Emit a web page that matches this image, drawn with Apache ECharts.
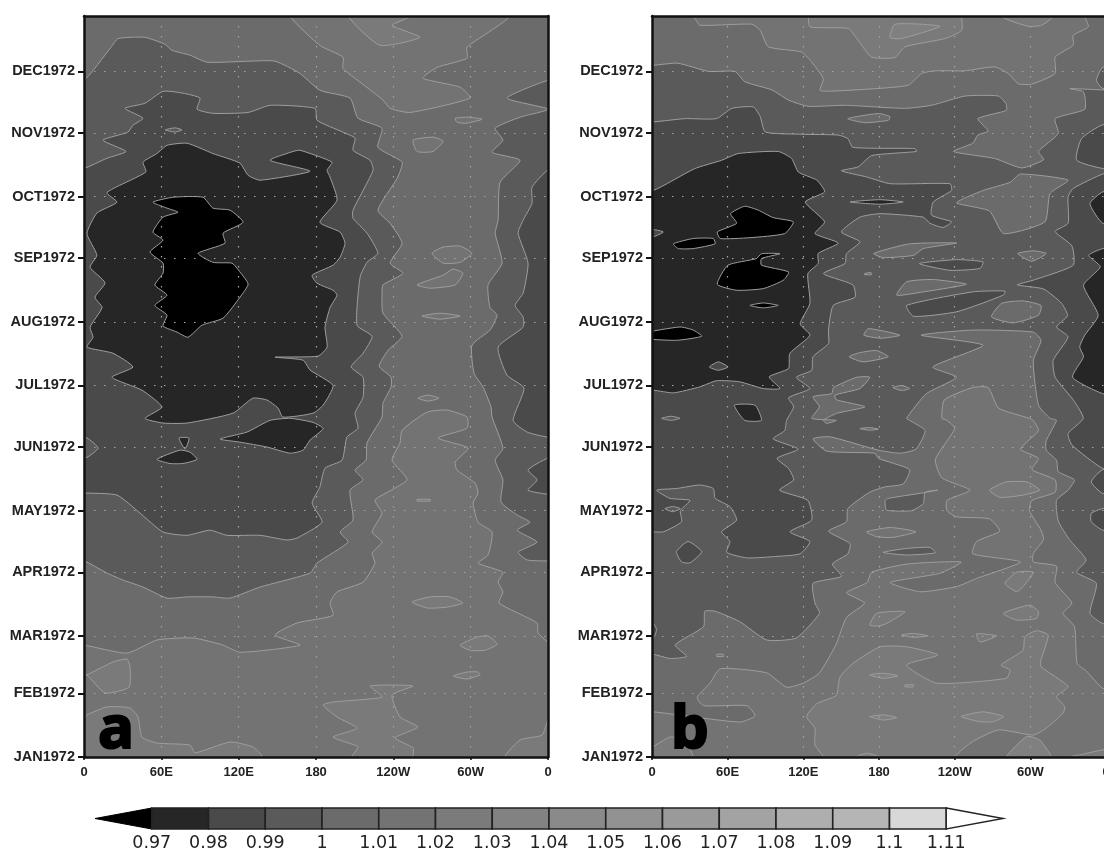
<!DOCTYPE html>
<html><head><meta charset="utf-8">
<style>html,body{margin:0;padding:0;background:#fff}#c{width:1104px;height:848px}</style>
<script src="https://cdn.jsdelivr.net/npm/echarts@6/dist/echarts.min.js"></script>
</head><body><div id="c"></div>
<script>
// Contour levels and colour key
const levelLabels=['0.97','0.98','0.99','1','1.01','1.02','1.03','1.04','1.05','1.06','1.07','1.08','1.09','1.1','1.11'];
const cellColors=['#262626','#4a4a4a','#5a5a5a','#6b6b6b','#737373','#7b7b7b','#828282','#8a8a8a','#929292','#9a9a9a','#a3a3a3','#aeaeae','#b5b5b5','#d8d8d8'];
const C0='#000000',C1='#262626',C2='#4a4a4a',C3='#5a5a5a',C4='#6b6b6b',C5='#737373',C6='#7a7a7a',C7='#808080';
// Time axis: day of 1972 at which each month starts
const monthDays=[0,31,59,90,120,151,181,212,243,273,304,334];
const monthLabels=['JAN1972','FEB1972','MAR1972','APR1972','MAY1972','JUN1972','JUL1972','AUG1972','SEP1972','OCT1972','NOV1972','DEC1972'];
const lonTicks=[0,60,120,180,240,300,360];
const lonLabels=['0','60E','120E','180','120W','60W','0'];
const fullDomain=[[[0,0],[360,0],[360,361],[0,361]]];

// PANEL a : contours as [longitude, day]
const a_L6=[
[[0,19],[2.3,20.5],[17.8,24.4],[35.7,23.9],[41.9,19.5],[45,9.7],[56.6,6.8],[82.3,5.8],[86,2],[113.3,7.3],[131,4.9],[138,0],[0,0]],
[[185.5,25.3],[193.2,26.8],[231.2,29.2],[222,34.6],[255.3,34.6],[239,30.2],[245.2,19.5],[259,14.6],[241.3,9.3],[255.3,4.4],[254.5,0],[208,0],[212.6,4.9],[193.2,9.7],[211.8,14],[196.3,19.5]],
[[326.7,0],[338.3,8.3],[355.4,10.7],[360,18],[360,0]],
[[0,40],[2.3,40],[22.5,46.3],[33.4,47.7],[35.7,43.8],[35,34],[16.3,31.2],[2.3,40]],
[[254.5,75.5],[268.5,78],[284,78],[294,75],[281.7,73],[266.2,72.6]],
[[291.8,54.5],[305,58.4],[313.5,59],[320.5,55],[311.2,52],[299.5,52]],
[[286.3,39.4],[297.2,41.4],[305.7,41.4],[307.3,40],[297.2,38]],
[[258.4,125.5],[268.5,125.5],[268.5,124.7],[258.4,124.7]]];
const a_L4=[[[0,54.5],[33.4,50.6],[56.6,57],[84.6,58],[107.9,54.5],[121,51],[167.6,54.5],[148.2,59.4],[165.3,65.3],[193.2,69],[190.9,75],[196.3,80.4],[216.5,85.2],[225.8,94.5],[223.5,99.3],[231.2,104.7],[223.5,109.6],[231.2,118.8],[225.8,125.2],[250.6,135],[239,144.6],[245.2,153],[246.8,159.2],[266.2,168],[281.7,169],[297.2,165.6],[297.2,160.2],[274.7,155.4],[298,150.5],[288,143.7],[289.4,139.8],[303.4,133.4],[305.7,128.6],[301.9,123.7],[305.7,114.4],[316.6,109.6],[313.5,98.4],[305.7,94.5],[325,90],[321.3,85.2],[325,80.4],[322,75],[351.5,65.3],[352.3,60.4],[360,56],[375,50],[375,375],[-15,375],[-15,54.5]]];
const a_L5=[
[[159.9,361],[183,346.7],[201,340.9],[201,335.5],[220.4,325.8],[232,320],[237.5,316],[253,314],[299.5,321],[291.8,326.3],[263,330.7],[274,336],[297.2,340.4],[297.2,345.8],[330.6,361],[330,375],[160,375]],
[[288,311.2],[298,311.7],[308.8,310.7],[297.2,308.8],[289.4,309.2]],
[[255.3,300.5],[270.8,302],[278.6,300],[270.8,295],[258.4,295]],
[[270,245.4],[278.6,248.4],[291.8,248.9],[301,245.4],[291.8,241],[278.6,240.6]],
[[258.4,230],[278.6,234.7],[286.3,237.7],[294,235.7],[288,230],[268.5,228.4]],
[[262.3,214.8],[276.3,216.2],[291.8,214.8],[276.3,213.3]],
[[259,174.8],[267,176.3],[275.5,174.8],[267,173.4]]];
const a_L6top=[[[204.9,361],[229.7,346.7],[260.7,350.6],[239,356.5],[253,361],[253,375],[205,375]]];
const a_L3=[
[[-15,329.7],[0,329.7],[21,345.8],[26.4,350],[47.3,350.6],[62.9,347.2],[68.3,344.3],[82.3,341.9],[95.4,338.5],[128.8,339],[148.2,339],[167.6,333],[183,324.8],[206.4,321],[212.6,311.2],[231.2,306.3],[228,297],[246.8,289.8],[243,282],[228,266.4],[237.5,260],[246.8,250.3],[237.5,240.6],[247.5,235.7],[232,230],[231.2,226],[232,216.2],[246.8,205],[236,198.2],[229,190.4],[238.2,185],[238.2,180.2],[232,172.4],[231.2,165.6],[219.6,153],[218.8,144.6],[210.3,139.8],[216.5,135],[206.4,130],[208.7,115.4],[198.7,109.6],[204.9,104.7],[180.8,94.5],[175.4,89.6],[136.6,82.8],[113.3,77.4],[100,78],[80,78],[64.4,77.4],[45.8,82.8],[30.3,86.2],[17.8,89.6],[0,95.5],[-15,95.5]],
[[375,329.7],[360,329.7],[328.2,321],[360,315.6],[338.3,311.7],[319,306.3],[325,300.5],[316.6,294.6],[338.3,290.7],[322.8,280],[321.3,261.5],[319,255.2],[324.4,240.6],[313.5,230],[315,219],[320.5,215.3],[315,208],[301,200.6],[302.6,187],[309.6,180.2],[315.8,170.5],[316.6,165.6],[325,150.5],[319,144.6],[325,135],[323.6,124.2],[336,117.9],[346,114.4],[336,110.5],[351.5,104.7],[336.8,99.8],[343.8,96],[360,95.5],[375,95.5]]];
const a_L2=[
[[-15,286.8],[0,286.8],[17.8,291.7],[32.6,295],[14.7,300.5],[34,304.4],[38,307.8],[45.8,311.2],[31.8,316],[47.3,318.5],[61.3,324.3],[76.8,323.4],[90,321],[87.7,315.6],[100,313.6],[127.3,314],[144.3,317.5],[179.3,316],[180.8,310.2],[201,304.4],[210.3,301.5],[208.7,295.6],[222,290.7],[224.3,285.9],[208.7,266.4],[208.7,262.5],[219.6,255.2],[228,245.4],[219.6,241],[214.2,233.8],[211.8,210.4],[223.5,205],[216.5,196.7],[207.2,190],[216.5,185],[216.5,175.3],[210.3,167.5],[212.6,160.2],[204,155.8],[200.2,144.6],[187,140.7],[183,131.5],[177,123.7],[184.7,114.4],[165.3,106.7],[157.5,105.7],[136.6,108],[111,108],[97.8,110.5],[80,108],[61.3,109.6],[43.5,118.8],[25.6,127.6],[0,128.6],[-15,128.6]],
[[375,285.9],[360,285.9],[347.6,277.6],[347.6,269.8],[340.7,261.5],[336.8,255.2],[344.5,240.6],[340.7,226],[334.5,220],[340.7,214.3],[340.7,209.4],[321.3,199.7],[328.2,186],[341.4,179.7],[332.9,164],[343.8,158.3],[360,155.8],[375,155.8]],
[[375,145.6],[360,145.6],[344.5,139.8],[351.5,135],[344.5,130],[360,128],[375,128]]];
const a_L3inL2=[
[[62.9,305.5],[70.7,306.5],[76,305.5],[70.7,304.5]],
[[-8,155.4],[2.3,155.4],[10.9,150.5],[2.3,146],[-8,146]]];
const a_L1=[
[[2.3,199.7],[22.5,196.7],[38,190],[21.7,185],[45,178.7],[60.5,170.5],[47.3,165],[61.3,162.7],[80,162.7],[115.6,167.5],[131,174.8],[142,173.9],[150.5,170],[154.4,165.6],[177.7,167.5],[185.5,171.4],[193.2,181],[175.4,188.5],[170,193.3],[148.2,194.8],[181.6,195.3],[188.6,199.7],[187,209.4],[190.9,219],[196.3,225],[193.2,227.4],[180.8,230.8],[177,234.7],[193.2,239.6],[198.7,243.5],[202.5,250.3],[198.7,255.7],[183,260.5],[196.3,271.3],[190.9,282.5],[188.6,285.9],[192.4,289.8],[167.6,295.6],[162.2,295],[144.3,290.7],[175.4,285.4],[136.6,281],[127.3,283.4],[121,289.3],[100,294],[80,299],[64.4,298],[56.6,294],[45.8,289.8],[48,285],[17.8,275],[25.6,270.3],[10,265],[2.3,255],[10,244.5],[4.7,238.6],[16.3,231],[8.5,224],[14,219],[4.7,209.4],[7,204.5]],
[[105.5,154.9],[126.5,158.3],[144.3,164],[160,165],[177.7,163],[185.5,160],[175.4,154.4],[170,149.5],[160,148],[142,151],[121,153.4]],
[[56.6,145],[74.5,149.5],[82.3,148.5],[87.7,145],[76.8,143],[66.7,143]],
[[73.7,155.4],[81.5,155.4],[78.4,150]]];
const a_L0=[[[53.5,270.3],[69,272.7],[92.3,272.7],[100,267.4],[113.3,266.4],[123.4,260.5],[107.9,255.2],[109.4,250.3],[88.5,245.4],[100,241],[114.8,240.6],[118.7,238.1],[127.3,230.4],[121,224],[107.9,213.8],[91.6,210.4],[80.7,204.5],[72.2,207],[61.3,210],[64.4,215.3],[55,220],[64.4,225],[55,229.9],[61.3,235.7],[61.3,240.6],[51.2,246],[61.3,251.8],[53.5,255.7],[61.3,263],[73,265.4],[64.4,267.4]]];

// PANEL b
const b_L6=[
[[120,19.7],[128,26],[143,30],[146,39],[156,45.6],[177,53.7],[197.6,53.7],[222,49.7],[197.6,44.8],[221,36],[275,38.3],[278,42.4],[271,44.8],[288,52],[289.5,58.6],[298.5,61.5],[307.6,59.4],[302,47.3],[302,44],[323,34.3],[314,29.4],[320.5,24.5],[319,21.3],[306,14],[296,10.7],[269,13.2],[249,7.5],[235,0],[233,-10],[133,-10],[133,0],[126.5,5.9],[126.5,14]],
[[-10,-10],[-10,4.9],[0,4.9],[14,9.7],[25.6,8.3],[32,0],[32,-10]],
[[169,64.3],[174.4,70],[196.4,70.8],[182,65],[175.7,63.8]],
[[193.8,59.4],[202.8,60.2],[214.5,59],[202.8,58.3]],
[[252,60],[267.5,59],[254.6,56]],
[[272.7,70],[293.4,74],[300,70.8],[298.5,67.5],[283,66.7]],
[[274,84.6],[283,90],[296,90],[288,83],[283,80.5]],
[[262,130],[275,134],[291,134],[301,130],[288,127.6],[270,126.5]],
[[325,-10],[325,0],[332,1],[350,3.5],[370,5],[370,-10]]];
const b_L7=[
[[169,40],[179.5,40.8],[191,39.6],[179.5,38.3]],
[[169,19.7],[179.5,20.5],[190,19.2],[179.5,18]],
[[240,19.7],[257,22],[273,19.7],[265,17.2],[254.6,17.2]],
[[275,-10],[275,0],[291,10],[301,8.3],[310,0],[310,-10]],
[[159,-10],[159,0],[166.6,1.8],[175.7,0],[175.7,-10]],
[[196.4,35],[203,35.2],[203,34.2],[196.4,34.2]]];
const b_L4=[[[-15,22],[1,22],[68,17],[80,20],[73.5,25],[40,25],[35,29],[45,36],[53,43],[89,41],[104.5,34],[117.5,36],[130,41],[143,55],[151,68],[165,75],[151,80],[167,85],[170.5,90],[198,94],[240,95],[223.5,89.5],[185,85],[208,80.5],[236.5,83],[252,87],[286,95],[249,99],[252,105],[270,110],[262,116],[236.5,117],[229,120],[229,125],[247,130],[225,136],[220,145],[235,160],[229,164],[225,165],[227,174],[249,180],[261,180],[269,170],[293,165],[296,164],[300,159],[286,150],[300,145.5],[295,140],[313,135],[313,129],[295,125],[293,120],[302,110.5],[304,106],[296,99],[296,95],[314,93],[313,85],[326,75],[319,70],[328,63.5],[330,45.6],[337,42],[350,33.5],[375,30],[375,375],[-15,375]]];
const b_L5=[
[[31,375],[31,361],[33.4,359.7],[37.3,356.5],[77.4,357],[84,354],[90.3,346],[116,343.5],[122.7,339.5],[133,330.5],[130.4,324.8],[139.5,324.4],[175.7,325.7],[199,327.3],[209.3,333],[219.7,334.3],[243,334.3],[266,336.2],[276.6,333],[284.3,328],[294.7,327.8],[313,333],[313,341],[327,346.8],[327,351.6],[338.7,355.7],[336,361],[336,375]],
[[166.6,109.7],[185,111.8],[205,109.7],[187,107],[174.4,107.3]],
[[50.2,50],[55.4,50],[55.4,49],[50.2,49]]];
const b_L6top=[
[[121.4,375],[121.4,361],[122.7,355.7],[152.4,354.9],[160,349.2],[170.5,341],[188.6,340.8],[196.4,346],[227.4,350],[240.4,354],[240.4,361],[240.4,375]],
[[271.4,375],[271.4,361],[292,356],[302.4,356.5],[311.5,361],[311.5,375]]];
const b_L7top=[[[188.6,357],[223.6,356],[193.8,350],[184.8,350.5]]];
const b_L3=[
[[-15,337],[1,337],[20,338],[44,334],[64.5,334],[72,329],[93,325],[106,320],[121.4,317],[150,317.5],[196,316],[217,317.5],[243,322],[269,322],[275,318],[275,315],[253,311],[261,305],[253,303],[249,299],[234,295],[266,291.6],[287,287],[304,291],[300,295],[315.4,303.7],[313,311],[336,315.6],[335,324],[324.4,325.6],[350,325],[375,325],[375,62],[350,65],[340,70],[345,84.6],[329.6,90],[337,96],[324,106],[315.4,115],[314,125],[323,130],[328,135],[315.4,139],[314,144.6],[306,149.5],[306,154],[314,164],[309,165],[300,171.4],[296,193],[302,203],[296,207],[249,208],[209,205.5],[257,200.6],[218,190],[236.5,185],[213,177],[197.6,165],[200,164],[212,159],[205,150],[192.5,148],[175.7,149.5],[138,156],[125,155],[135.6,149],[173,148],[175.7,145.5],[200,140],[195,133],[181,131.6],[169,129],[152,121],[151,114.6],[137,110],[153.7,104],[152,99],[140,94],[147,88],[125,84.6],[126.5,75],[130,70],[112,58],[89,57],[68,66],[49,71],[41,71],[40,63.5],[18,54.6],[27,49],[14,48],[1,50],[-15,50]],
[[350,336],[345,329.7],[350,325.7],[375,325],[375,337]],
[[181,125],[183.4,126],[210.6,128.7],[222,130],[212,129],[210.6,123.5],[201.5,120],[182,120.3]],
[[179.5,99.7],[197.6,101.6],[215.8,102.1],[220,99.5],[197.6,98.4]]];
const b_L4inL3=[
[[236.5,270],[257,276],[278,280],[286,284],[323,281],[309,274.5],[305,260.7],[273,255],[262,266]],
[[152,311],[175.7,313.5],[184.7,312],[183.5,310.2],[165.3,309]],
[[172,245.3],[200,250],[236.5,250.4],[210.6,247.7],[203,244.4],[179.5,243.3]],
[[284,245.3],[296,246.6],[306,245.3],[294.7,241.5]],
[[190,225],[197.6,231.5],[218.4,232.6],[244,230.3],[210.6,226.6]],
[[263.6,214.4],[271.4,221],[288,222.2],[302,220],[300,215.2],[280.4,211.5]],
[[164.5,205.5],[168,208.7],[192.5,205.5],[178,204]],
[[153,195],[161.4,197],[174.4,198],[183.4,195],[164,192.5]],
[[124,165],[130,170.6],[125,175.5],[139.5,177],[141,180],[159,185],[169,185],[161.4,179.5],[142,176.3],[143.3,174],[165.3,170.6],[143.3,167.4],[133,164],[135.6,162.5],[143,164]],
[[187,180],[194,181],[200,179.5],[194,178.5]],
[[161.4,160],[169,160.5],[175.7,159.7],[169,159.2]],
[[165,235.5],[170,236],[170.5,235],[165,235]]];
const b_L2=[
[[-15,309.4],[1,309.4],[25.6,311],[50,311],[62,316],[78.7,316.7],[84,312],[88,304.5],[116,303.4],[144.6,303],[152,301.3],[156,297],[204,296.4],[205.4,295],[170.5,293],[160,287.5],[147,285.6],[166.6,282.6],[185,279.3],[231.3,279.3],[232.6,276],[218.4,270.4],[217,264],[232.6,260.7],[226,258],[215.8,260],[210.6,263],[177,264.7],[161.4,263],[147,255.8],[161.4,251],[151,245.2],[149.8,240.4],[133,235.5],[156,230],[157.6,224],[140.7,220],[137,208],[137,201.4],[125,195],[124,188.4],[112,185],[122.6,179.5],[106,175],[110,170.6],[104.5,164],[103,159],[94,155],[113.6,150],[97,145.5],[106,140.6],[110,135],[99,130],[121,125],[124,115.4],[107,109.7],[122.6,105],[115,99],[94,97.6],[73.5,97],[58,99.7],[60.5,105],[54,109.7],[65.7,115.4],[60.5,122],[49,126],[47.6,130.8],[37,132.5],[19,130.8],[3.6,130],[14,126],[29.5,125],[22,120],[23,114.6],[8.8,109.7],[1,109.7],[-15,109.7]],
[[350,284],[327,277],[323,273],[323,260],[313,256],[326,249],[327,239.6],[296,232.3],[283.5,230],[304,228],[318,221],[322.6,215],[314,209.5],[323,204.7],[311.5,193.3],[313,185],[327,174],[334.8,165],[323,157.6],[326,152],[350,140.6],[375,138],[375,287]],
[[350,308],[333.5,301.3],[329.6,290.8],[350,286.7],[375,286],[375,308]],
[[350,140],[341,134],[350,128.4],[375,128],[375,140]],
[[350,121],[341,118.7],[341,114.6],[350,110.5],[375,110],[375,121]],
[[207.5,240.4],[236.5,242.3],[257,241.2],[254.6,238],[231.3,237.1]],
[[197.6,220],[249,226.6],[274,227],[272.7,225],[236.5,216.9],[203,214.7]],
[[-8,65],[1,65],[3.6,62],[1,58],[-8,58]],
[[19,100],[28,105],[38.6,100],[29.5,94.6],[23,95]]];
const b_L3inL2=[
[[7.5,165],[15,166],[21.7,165],[15,164]],
[[10,121],[16,122],[22,121],[16,119.5]]];
const b_L1=[
[[-15,276],[1,276],[33,286.6],[54,290.7],[67,294],[98,295],[108.4,291.6],[113.6,285],[128,281],[134,275.3],[119,270.4],[134,260.7],[126.5,255],[144.6,250.4],[129,245.3],[129,240.4],[121,235.5],[122.6,221],[115,211],[122.6,205.5],[107,196.6],[106,189.3],[91,185.2],[99.4,179.5],[86.4,179.5],[68,182.8],[50,183.3],[37,180.3],[16.6,177.4],[1,178.7],[-15,178.7]],
[[350,275.3],[340,269.6],[350,260],[375,258],[375,277]],
[[350,247.7],[339,244.4],[348,238.8],[335,229.8],[346.4,215.2],[336,205.5],[332,199.8],[335,195],[326.5,185],[350,177],[375,175],[375,250]],
[[153.7,270.4],[177,271.5],[195,270.4],[177,269.3]],
[[64,171.4],[80,171.4],[85,164],[72,164]]];
const b_L2inL1=[
[[-8,257.4],[1,257],[8.8,255.8],[1,253.4],[-8,253.4]],
[[44.5,190],[51.5,192.5],[59,190],[51.5,188.4]]];
const b_L0=[
[[50.7,255.8],[65.7,260],[61,264.7],[72,268.3],[82.5,266.4],[94,262.8],[109.7,260.7],[103,255],[76,253],[53,252.6]],
[[16.6,250],[32,252.6],[47.6,252.6],[49,250],[32,247.7],[20.5,247.7]],
[[50.7,230.3],[59,239.6],[81,242.8],[85,245.2],[99.4,245.2],[85,242.8],[85,239.6],[106,236.3],[102,232.3],[86.4,228.2],[65.7,227.4]],
[[76,220],[86.4,221.2],[98,220],[86.4,218.8]],
[[-8,206.3],[21.7,209.5],[32,208],[38.6,205],[19,203],[-8,204]]];

// Traced longitudes of panel b are calibrated to its own (slightly narrower) axis
const bLonCal=1.0214;
const scaleB=l=>l.map(p=>p.map(v=>[v[0]*bLonCal,v[1]]));

const paintA=[[fullDomain,C5],[a_L6,C6],[a_L4,C4],[a_L5,C5],[a_L6top,C6],[a_L3,C3],[a_L2,C2],[a_L3inL2,C3],[a_L1,C1],[a_L0,C0]];
const paintB=[[fullDomain,C5],[scaleB(b_L6),C6],[scaleB(b_L7),C7],[scaleB(b_L4),C4],[scaleB(b_L5),C5],[scaleB(b_L6top),C6],[scaleB(b_L7top),C7],[scaleB(b_L3),C3],[scaleB(b_L4inL3),C4],[scaleB(b_L2),C2],[scaleB(b_L3inL2),C3],[scaleB(b_L1),C1],[scaleB(b_L2inL1),C2],[scaleB(b_L0),C0]];

function flatten(paint){const out=[];paint.forEach(([polys,fill])=>polys.forEach(pts=>out.push({pts,fill})));return out;}
function contourSeries(paint,idx){
  const list=flatten(paint);
  return {type:'custom',xAxisIndex:idx,yAxisIndex:idx,clip:true,z:2,silent:true,
    encode:{x:0,y:1},
    data:list.map(p=>[p.pts[0][0],p.pts[0][1]]),
    renderItem:(params,api)=>{const p=list[params.dataIndex];
      return {type:'polygon',shape:{points:p.pts.map(v=>api.coord(v)),smooth:0.18},
        style:{fill:p.fill,stroke:'#9e9e9e',lineWidth:1}};}};
}
const dotted={show:true,lineStyle:{color:'#a4a4a4',width:1.2,type:[1.5,8.5]}};
const lineBlack={show:true,onZero:false,lineStyle:{color:'#111',width:2.5}};
const lblX={show:true,fontFamily:'Liberation Sans',fontWeight:'bold',fontSize:13,color:'#222',margin:9,hideOverlap:false,showMinLabel:true,showMaxLabel:true,
  customValues:lonTicks,formatter:v=>lonLabels[lonTicks.indexOf(v)]};
const lblY={show:true,fontFamily:'Liberation Sans',fontWeight:'bold',fontSize:14.5,color:'#222',margin:9,hideOverlap:false,showMinLabel:true,
  customValues:monthDays,formatter:v=>monthLabels[monthDays.indexOf(v)]};
function xA(g){return {type:'value',gridIndex:g,min:0,max:360,z:10,position:'bottom',axisLine:lineBlack,
  axisTick:{show:true,length:3,customValues:lonTicks,lineStyle:{color:'#111',width:1.5}},axisLabel:lblX,splitLine:dotted};}
function yA(g){return {type:'value',gridIndex:g,min:0,max:361,z:10,position:'left',axisLine:lineBlack,
  axisTick:{show:true,length:6,customValues:monthDays,lineStyle:{color:'#111',width:2}},axisLabel:lblY,splitLine:dotted};}
function frameX(g){return {type:'value',gridIndex:g,min:0,max:360,z:10,position:'top',axisLine:lineBlack,axisTick:{show:false},axisLabel:{show:false},splitLine:{show:false}};}
function frameY(g){return {type:'value',gridIndex:g,min:0,max:361,z:10,position:'right',axisLine:lineBlack,axisTick:{show:false},axisLabel:{show:false},splitLine:{show:false}};}
const keyIdx=levelLabels.map((_,i)=>i);

const option={animation:false,backgroundColor:'#fff',
 grid:[{left:84,top:16,width:464,height:741,outerBoundsMode:'none'},{left:652,top:16,width:454,height:741,outerBoundsMode:'none'},{left:95,top:808,width:908,height:21,outerBoundsMode:'none'}],
 xAxis:[xA(0),xA(1),
  {type:'value',gridIndex:2,min:-1,max:15,axisLine:{show:false},axisTick:{show:false},splitLine:{show:false},
   axisLabel:{show:true,customValues:keyIdx,fontFamily:'DejaVu Sans',fontSize:17.5,color:'#222',margin:5,hideOverlap:false,formatter:v=>levelLabels[v]}},
  frameX(0),frameX(1)],
 yAxis:[yA(0),yA(1),
  {type:'value',gridIndex:2,min:0,max:1,show:false},
  frameY(0),frameY(1)],
 series:[contourSeries(paintA,0),contourSeries(paintB,1),
  {type:'custom',xAxisIndex:2,yAxisIndex:2,silent:true,clip:false,encode:{x:0},
   data:[[-1],...cellColors.map((_,i)=>[i]),[14]],
   renderItem:(params,api)=>{const i=params.dataIndex;const v=api.value(0);
     if(i===0){return {type:'polygon',shape:{points:[api.coord([-1,.5]),api.coord([0,1]),api.coord([0,0])]},style:{fill:'#000',stroke:'#000',lineWidth:1}};}
     if(i===cellColors.length+1){return {type:'polygon',shape:{points:[api.coord([14,1]),api.coord([15,.5]),api.coord([14,0])]},style:{fill:'#fff',stroke:'#222',lineWidth:1.4}};}
     const a=api.coord([v,1]),b=api.coord([v+1,0]);
     return {type:'rect',shape:{x:a[0],y:a[1],width:b[0]-a[0],height:b[1]-a[1]},style:{fill:cellColors[i-1],stroke:'#222',lineWidth:1.6}};}}],
 graphic:[
  {type:'text',left:97,top:700,z:50,style:{text:'a',fontFamily:'Noto Sans',fontWeight:'bold',fontSize:60,fill:'#000',stroke:'#000',lineWidth:2}},
  {type:'text',left:670,top:700,z:50,style:{text:'b',fontFamily:'Noto Sans',fontWeight:'bold',fontSize:60,fill:'#000',stroke:'#000',lineWidth:2}}]
};
echarts.init(document.getElementById('c'),null,{renderer:'canvas'}).setOption(option);
</script></body></html>
